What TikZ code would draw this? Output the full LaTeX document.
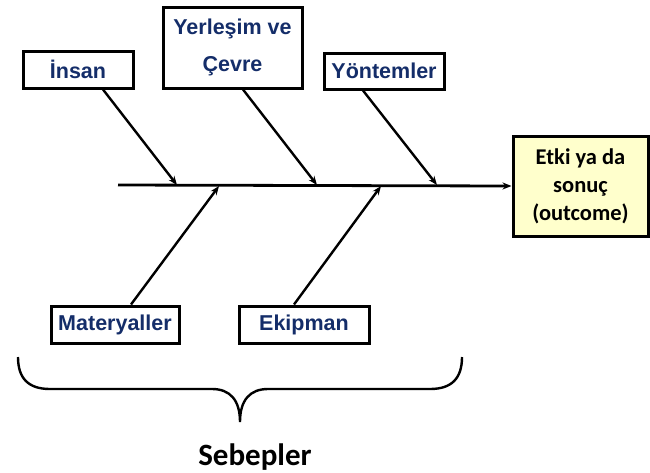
\documentclass[tikz,border=0pt]{standalone}
\usepackage{fontspec}
\setmainfont{Liberation Sans}
\newfontfamily\calibri{Carlito}
\usepackage{xcolor}
\usepackage{tikz}
\usetikzlibrary{arrows.meta, calc}
\definecolor{navy}{RGB}{20,45,105}
\definecolor{paleyellow}{RGB}{255,255,204}

\begin{document}
\begin{tikzpicture}[
    x=1pt, y=-1pt,
    cause/.style={rectangle, draw, line width=3pt, fill=white, inner sep=0pt, align=center, text=navy, font=\fontsize{21.5}{37}\selectfont\bfseries},
    effect/.style={rectangle, draw, line width=3pt, fill=paleyellow, inner sep=0pt, minimum width=135pt, minimum height=100pt, align=center, font=\calibri\fontsize{22.5}{28}\selectfont\bfseries},
    arrow/.style={-{Stealth[length=9pt,width=7pt]}, line width=2.4pt},
    brace/.style={line width=2.4pt}
]
\useasboundingbox (0,0) rectangle (650,472);

% Effect box
\node[effect] (etki) at (580.5,186) {Etki ya da\\sonuç\\(outcome)};

% Cause boxes
\node[cause, minimum width=110pt, minimum height=37pt] (insan) at (78,69.5) {İnsan};
\node[cause, minimum width=139pt, minimum height=81pt] (yerlesim) at (232.5,47.5) {Yerleşim ve\\Çevre};
\node[cause, minimum width=120pt, minimum height=36pt] (yontem) at (384,71) {Yöntemler};
\node[cause, minimum width=128pt, minimum height=37pt] (materyal) at (115,324.5) {Materyaller};
\node[cause, minimum width=130pt, minimum height=37pt] (ekipman) at (304,324.5) {Ekipman};

% Spine
\coordinate (tail) at (118,185);
\coordinate (h1) at (177,185);
\coordinate (h2) at (317,185);
\coordinate (h3) at (437,185);
\coordinate (l1) at (219,186);
\coordinate (l2) at (381,186);
\draw[arrow, line width=2.8pt] (tail) -- (etki.west);

% Arrows
\draw[arrow] ($(insan.south)+(25,0)$) -- (h1);
\draw[arrow] ($(yerlesim.south)+(10.5,0)$) -- (h2);
\draw[arrow] ($(yontem.south)+(-21,0)$) -- (h3);
\draw[arrow] ($(materyal.north)+(16,0)$) -- (l1);
\draw[arrow] ($(ekipman.north)+(-10,0)$) -- (l2);

% Brace
\draw[brace] (18,357) .. controls (18,378) and (28,389) .. (50,389) -- (212,389)
    .. controls (230,389) and (240,400) .. (240,422)
    .. controls (240,400) and (250,389) .. (268,389) -- (430,389)
    .. controls (452,389) and (462,378) .. (462,357);
\node[font=\calibri\fontsize{31}{31}\selectfont\bfseries, anchor=base] (sebep) at (255,465) {Sebepler};

\end{tikzpicture}
\end{document}
